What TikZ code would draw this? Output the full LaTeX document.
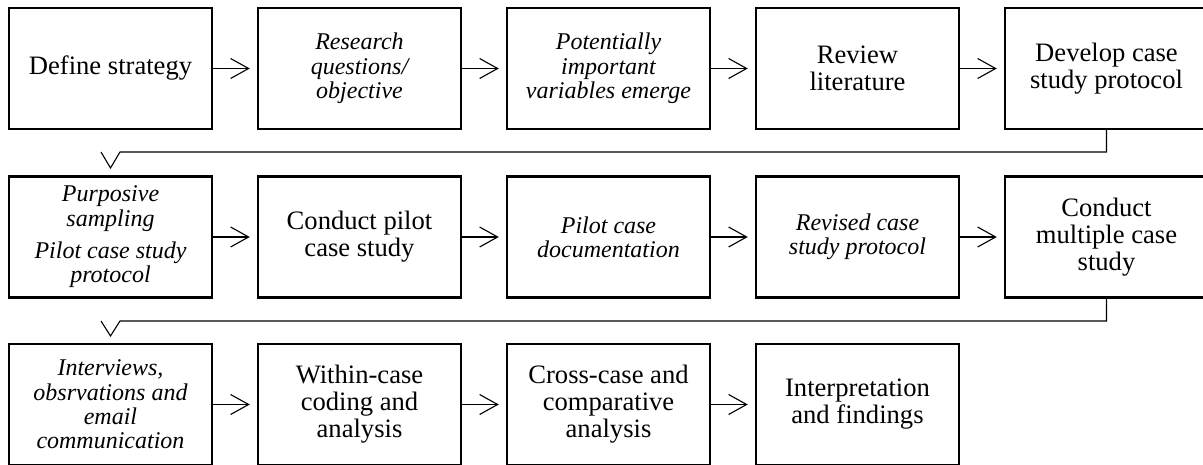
\documentclass[tikz,border=0pt]{standalone}
\usepackage{fontspec}
\setmainfont{Liberation Serif}
\usetikzlibrary{arrows.meta}
\tikzset{
  box/.style={draw, line width=2.5pt, minimum width=203pt, minimum height=121pt,
    inner sep=0pt, align=center, font=\fontsize{26.6}{27}\selectfont},
  ibox/.style={box, font=\fontsize{24}{24.3}\selectfont\itshape},
  conn/.style={line width=1.1pt},
  arr/.style={conn, -{Straight Barb[length=18pt,width=20pt]}, shorten >=7pt},
}
\begin{document}
\begin{tikzpicture}[x=1pt,y=-1pt]
\useasboundingbox (0,0) rectangle (1203,465);
\clip (0,0) rectangle (1203,465);
% row 1
\node[box]  (a1) at (110.5,68.5) {Define strategy};
\node[ibox] (a2) at (359.5,68.5) {Research\\questions/\\objective};
\node[ibox] (a3) at (608.5,68.5) {Potentially\\important\\variables emerge};
\node[box]  (a4) at (857.5,68.5) {Review\\literature};
\node[box]  (a5) at (1106.5,68.5) {Develop case\\study protocol};
% row 2
\node[ibox] (b1) at (110.5,237) {Purposive\\sampling\\[8pt]Pilot case study\\protocol};
\node[box]  (b2) at (359.5,237) {Conduct pilot\\case study};
\node[ibox] (b3) at (608.5,237) {Pilot case\\documentation};
\node[ibox] (b4) at (857.5,237) {Revised case\\study protocol};
\node[box]  (b5) at (1106.5,237) {Conduct\\multiple case\\study};
% row 3
\node[ibox] (c1) at (110.5,404.5) {Interviews,\\obsrvations and\\email\\communication};
\node[box]  (c2) at (359.5,404.5) {Within-case\\coding and\\analysis};
\node[box]  (c3) at (608.5,404.5) {Cross-case and\\comparative\\analysis};
\node[box]  (c4) at (857.5,404.5) {Interpretation\\and findings};
% horizontal arrows
\foreach \p/\q in {a1/a2,a2/a3,a3/a4,a4/a5,b1/b2,b2/b3,b3/b4,b4/b5,c1/c2,c2/c3,c3/c4}
  \draw[arr] (\p) -- (\q);
% row-change connectors
\coordinate (ra) at (120,152);
\coordinate (ta) at (110.5,168);
\coordinate (la) at (101,152);
\draw[conn, line join=miter] (a5.south) |- (ra) -- (ta) -- (la);
\coordinate (rb) at (120,321);
\coordinate (tb) at (110.5,336);
\coordinate (lb) at (101,321);
\draw[conn, line join=miter] (b5.south) |- (rb) -- (tb) -- (lb);
\end{tikzpicture}
\end{document}
